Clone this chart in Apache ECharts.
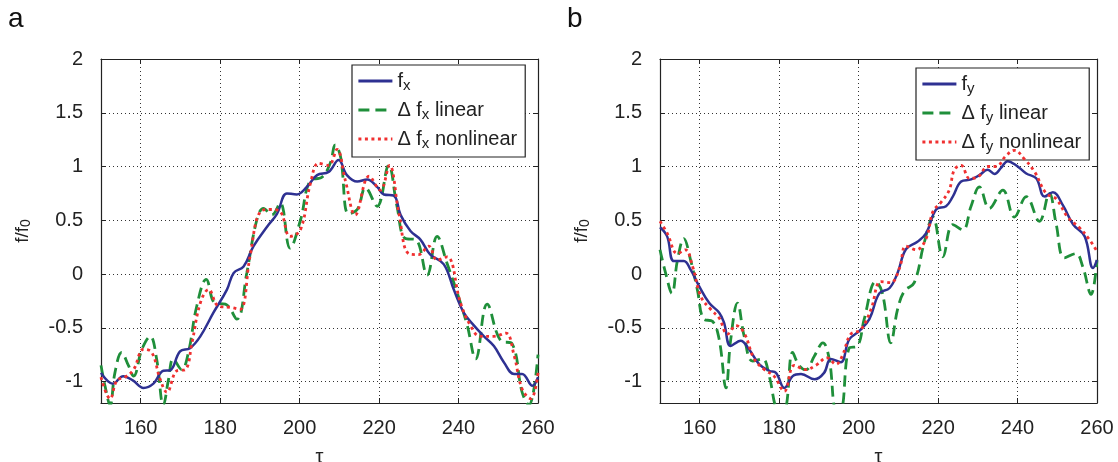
<!DOCTYPE html>
<html>
<head>
<meta charset="utf-8">
<script src="https://cdn.jsdelivr.net/npm/echarts@6/dist/echarts.min.js"></script>
<style>
html,body{margin:0;padding:0;background:#fff;}
#chart{width:1118px;height:462px;}
</style>
</head>
<body>
<div id="chart"></div>
<script>
// ---- data ----
const xTicks = [160, 180, 200, 220, 240, 260];
const yTicks = [-1, -0.5, 0, 0.5, 1, 1.5, 2];

// panel a
const fxTau = [150,153,155.6,158,160.7,163.2,165.7,167.4,169.9,172.4,175,178.3,181.7,183.4,185.9,188.4,191.8,194.3,196.8,199.3,201.8,204.4,207.3,209.8,211.9,214.5,217,219.5,221.2,223.7,225.4,227.9,230.4,232.9,236.3,238.8,241.3,243.9,246.4,248.9,251.4,254,256,258.6,260];
const fx = [-0.92,-1.02,-0.95,-0.99,-1.06,-1.02,-0.90,-0.895,-0.72,-0.69,-0.58,-0.36,-0.145,0.01,0.07,0.26,0.44,0.56,0.75,0.74,0.81,0.92,0.95,1.06,0.92,0.86,0.88,0.81,0.74,0.73,0.55,0.40,0.32,0.18,0.09,-0.145,-0.36,-0.48,-0.58,-0.67,-0.82,-0.93,-0.93,-1.04,-0.96];

const fxLinTau = [150,151,152.3,153.5,155.2,156.9,158.2,160.3,162.4,164,165.7,167,168.2,170.3,172,174.1,176.5,178.7,181.3,184.2,186.7,189.2,190.9,193,195.1,197.6,200.2,202.7,205.6,207.7,209,210.3,212.3,214.5,216.6,219.5,222.4,224.5,226.6,229.2,232.1,234.6,237.1,239.7,242.2,244.3,247.2,250.6,253.5,256,257.7,260];
const fxLin = [-0.85,-1.04,-1.22,-0.92,-0.73,-0.85,-0.95,-0.70,-0.58,-0.79,-1.22,-0.98,-0.79,-0.89,-0.73,-0.30,-0.05,-0.27,-0.28,-0.42,0.01,0.50,0.61,0.55,0.66,0.24,0.50,0.87,0.90,1.03,1.20,1.09,0.56,0.60,0.80,0.63,1.01,0.63,0.33,0.32,-0.01,0.35,0.10,-0.18,-0.48,-0.79,-0.28,-0.62,-0.65,-1.10,-1.22,-0.75];

const fxNlTau = [150,152.3,154,156,158.2,160.7,162.8,164.9,166.6,169.1,171.2,172.9,175,177.1,179.6,182.5,185,187.5,190.1,192.6,195.1,197.6,200.2,202.7,204.8,207.3,209.4,211.5,214,217.5,220.3,222.6,225,227.4,229.9,232.5,234.6,237.1,240.5,243,245.5,248.9,251.9,254,256,258.2,260];
const fxNl = [-0.96,-1.16,-0.99,-0.96,-0.89,-0.70,-0.73,-0.98,-1.10,-0.90,-0.89,-0.64,-0.27,-0.145,-0.30,-0.31,-0.33,0.16,0.58,0.60,0.58,0.35,0.41,0.84,1.03,1.01,1.16,0.87,0.55,0.91,0.78,1.01,0.56,0.19,0.18,0.26,0.13,0.16,-0.27,-0.48,-0.58,-0.58,-0.55,-0.76,-1.07,-1.16,-0.92];

// panel b
const fyTau = [150,151.8,153.5,156,157.7,159.8,162.4,164.9,166.1,167.8,170.3,172.4,175,177.5,179.2,181.3,183.4,185.5,188.9,191.3,193,195.5,197.6,200.2,202.7,205.2,207.8,209.8,211.9,214.8,217,219.5,222,223.7,225.8,228.3,230.4,232.5,234.2,235.9,237.5,239.7,242.2,244.7,246.8,248.9,251.4,254,256.9,259,260];
const fy = [0.435,0.35,0.12,0.12,0.04,-0.11,-0.27,-0.36,-0.45,-0.67,-0.62,-0.70,-0.84,-0.90,-0.92,-1.06,-0.95,-0.93,-0.98,-0.92,-0.79,-0.82,-0.61,-0.53,-0.42,-0.18,-0.13,0.01,0.23,0.30,0.38,0.60,0.63,0.72,0.86,0.88,0.92,0.97,0.93,0.99,1.05,1.01,0.935,0.89,0.72,0.76,0.64,0.46,0.35,0.055,0.13];

const fyLinTau = [150,151.4,153,154.4,156,157.7,159.4,161,163.2,164.9,166.6,167.8,169.5,171.2,173.3,175.8,177.5,179.2,180.5,181.7,183.4,185,186.7,188.9,191,192.6,194.3,195.5,197.6,199.7,201.4,204.3,206,208.1,209.8,211.5,214,216.5,218.7,221.2,223.7,226.2,228.3,230.4,232.9,236.3,239.2,242.2,245.5,248,249.7,251.8,254.7,256.4,258.5,260];
const fyLin = [0.225,0.01,-0.18,0.13,0.33,0.13,-0.145,-0.42,-0.44,-0.61,-1.06,-0.61,-0.27,-0.58,-0.81,-0.79,-0.95,-1.25,-1.3,-1.25,-0.73,-0.85,-0.89,-0.76,-0.64,-0.79,-1.25,-1.25,-0.69,-0.67,-0.42,-0.07,-0.18,-0.64,-0.33,-0.16,-0.08,0.29,0.53,0.16,0.46,0.41,0.63,0.81,0.61,0.78,0.53,0.72,0.49,0.75,0.47,0.15,0.19,0.07,-0.19,0.13];

const fyNlTau = [150,151.8,154.4,156.4,158.2,160.3,162.8,164.9,167,169.1,171.2,173.7,176.3,178.7,181.3,183.8,186.7,189.2,192.1,194.3,195.9,198,200.5,203.1,205.6,208.1,210.3,211.9,214.5,217,218.7,220.8,222.8,224.1,225.8,227.9,229.9,232.5,234.6,237.1,239.2,241.7,244.3,247.2,249.7,252.6,255.6,258.1,260];
const fyNl = [0.49,0.38,0.19,0.225,0.07,-0.21,-0.33,-0.41,-0.56,-0.48,-0.55,-0.79,-0.89,-0.95,-1.09,-0.85,-0.89,-0.85,-0.78,-0.84,-0.76,-0.56,-0.52,-0.33,-0.07,-0.08,0.055,0.26,0.225,0.33,0.58,0.67,0.78,0.97,1.01,0.89,0.90,1.00,1.00,1.10,1.15,1.07,0.95,0.75,0.70,0.53,0.43,0.32,0.21];

const legendLabels = {
  fx: '{n|f}{s|x}',
  fxLin: '{n|Δ f}{s|x}{n| linear}',
  fxNl: '{n|Δ f}{s|x}{n| nonlinear}',
  fy: '{n|f}{s|y}',
  fyLin: '{n|Δ f}{s|y}{n| linear}',
  fyNl: '{n|Δ f}{s|y}{n| nonlinear}'
};

// ---- chart ----
const FONT = 'Liberation Sans, Arial, Helvetica, sans-serif';
const BLUE = '#2e3192', GREEN = '#1f8f3a', RED = '#f03030';
const zip = (a, b) => a.map((t, i) => [t, b[i]]);
const chart = echarts.init(document.getElementById('chart'), null, {renderer: 'canvas'});

const grids = [
  {left: 101, top: 59, width: 437, height: 344, outerBoundsMode: 'none', containLabel: false},
  {left: 660, top: 59, width: 437, height: 344, outerBoundsMode: 'none', containLabel: false}
];

function xAxes(g) {
  return [
    {type: 'value', gridIndex: g, min: 150, max: 260, position: 'bottom',
     name: 'τ', nameLocation: 'middle', nameGap: 44,
     nameTextStyle: {fontSize: 20, color: '#222', fontFamily: FONT},
     axisLine: {show: true, onZero: false, lineStyle: {color: '#222', width: 1.2}},
     axisTick: {show: true, inside: true, length: 5, customValues: xTicks, lineStyle: {color: '#222'}},
     axisLabel: {show: true, customValues: xTicks, fontSize: 20, color: '#222', fontFamily: FONT, margin: 15},
     splitLine: {show: true, lineStyle: {type: [1, 3], color: '#333', width: 1}}},
    {type: 'value', gridIndex: g, min: 150, max: 260, position: 'top',
     axisLine: {show: true, onZero: false, lineStyle: {color: '#222', width: 1.2}},
     axisTick: {show: true, inside: true, length: 5, customValues: xTicks, lineStyle: {color: '#222'}},
     axisLabel: {show: false}, splitLine: {show: false}}
  ];
}
function yAxes(g) {
  return [
    {type: 'value', gridIndex: g, min: -1.2, max: 2, position: 'left',
     name: '{a|f/f}{b|0}', nameLocation: 'middle', nameGap: 68, nameRotate: 90,
     nameTextStyle: {rich: {a: {fontSize: 19, color: '#222', fontFamily: FONT},
                            b: {fontSize: 14, color: '#222', fontFamily: FONT, padding: [7, 0, 0, 0]}}},
     axisLine: {show: true, onZero: false, lineStyle: {color: '#222', width: 1.2}},
     axisTick: {show: true, inside: true, length: 5, customValues: yTicks, lineStyle: {color: '#222'}},
     axisLabel: {show: true, customValues: yTicks, fontSize: 20, color: '#222', fontFamily: FONT, margin: 18},
     splitLine: {show: true, lineStyle: {type: [1, 3], color: '#333', width: 1}}},
    {type: 'value', gridIndex: g, min: -1.2, max: 2, position: 'right',
     axisLine: {show: true, onZero: false, lineStyle: {color: '#222', width: 1.2}},
     axisTick: {show: true, inside: true, length: 5, customValues: yTicks, lineStyle: {color: '#222'}},
     axisLabel: {show: false}, splitLine: {show: false}}
  ];
}

function lineSeries(name, g, tau, vals, color, type, width, z) {
  return {
    name: name, type: 'line', xAxisIndex: g * 2, yAxisIndex: g * 2,
    data: zip(tau, vals), symbol: 'none', smooth: 0.4, clip: true, z: z,
    lineStyle: {color: color, width: width, type: type},
    itemStyle: {color: color}
  };
}

function legendFor(names, left, top) {
  return {
    data: names, orient: 'vertical', left: left, top: top,
    itemWidth: 34, itemHeight: 20, itemGap: 7,
    padding: [6, 8, 6, 5],
    backgroundColor: '#fff', borderColor: '#222', borderWidth: 1.2, borderRadius: 0,
    formatter: n => legendLabels[n],
    itemStyle: {opacity: 0, borderWidth: 0},
    lineStyle: {width: 2.8},
    textStyle: {rich: {
      n: {fontSize: 20, color: '#222', fontFamily: FONT},
      s: {fontSize: 15, color: '#222', fontFamily: FONT, padding: [9, 0, 0, 0]}
    }},
    selectedMode: false
  };
}

chart.setOption({
  animation: false,
  backgroundColor: '#fff',
  grid: grids,
  xAxis: [...xAxes(0), ...xAxes(1)],
  yAxis: [...yAxes(0), ...yAxes(1)],
  legend: [legendFor(['fx', 'fxLin', 'fxNl'], 352, 65), legendFor(['fy', 'fyLin', 'fyNl'], 916, 68)],
  graphic: [
    {type: 'text', left: 8, top: 5, style: {text: 'a', fontSize: 28, fill: '#111', fontFamily: FONT}},
    {type: 'text', left: 567, top: 5, style: {text: 'b', fontSize: 28, fill: '#111', fontFamily: FONT}}
  ],
  series: [
    lineSeries('fx', 0, fxTau, fx, BLUE, 'solid', 2.5, 3),
    lineSeries('fxLin', 0, fxLinTau, fxLin, GREEN, [11, 6], 2.8, 2),
    lineSeries('fxNl', 0, fxNlTau, fxNl, RED, [3, 3.5], 2.8, 4),
    lineSeries('fy', 1, fyTau, fy, BLUE, 'solid', 2.5, 3),
    lineSeries('fyLin', 1, fyLinTau, fyLin, GREEN, [11, 6], 2.8, 2),
    lineSeries('fyNl', 1, fyNlTau, fyNl, RED, [3, 3.5], 2.8, 4)
  ]
});
</script>
</body>
</html>
